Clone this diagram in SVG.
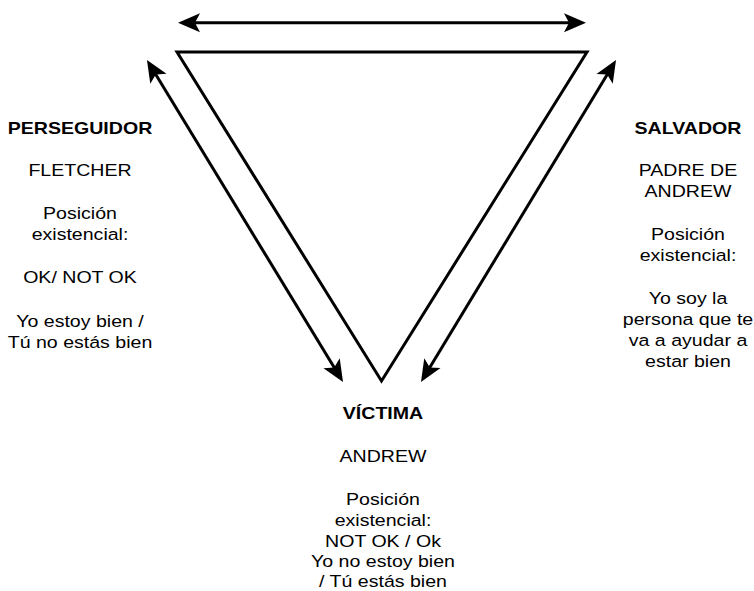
<svg xmlns="http://www.w3.org/2000/svg" width="754" height="591" viewBox="0 0 754 591">
<style>
text{font-family:"Liberation Sans",Arial,sans-serif;font-size:16.3px;fill:#000;text-anchor:middle}
.b{font-weight:bold}
.ln{stroke:#000;stroke-width:3;fill:none}
</style>
<defs>
<marker id="ah" viewBox="-12 -11 26 22" markerWidth="26" markerHeight="22" refX="0" refY="0" markerUnits="userSpaceOnUse" orient="auto-start-reverse">
<path d="M12,0 L-10,-9.5 L-5,0 L-10,9.5 Z" fill="#000"/>
</marker>
</defs>
<rect width="754" height="591" fill="#fff"/>
<g id="triangle">
<path class="ln" d="M177,52 L587,52 L381.5,381 Z" stroke-linejoin="miter"/>
</g>
<g id="connectors">
<line class="ln" x1="190" y1="22.7" x2="574" y2="22.7" marker-start="url(#ah)" marker-end="url(#ah)"/>
<line class="ln" x1="153.2" y1="70.2" x2="336.8" y2="371.8" marker-start="url(#ah)" marker-end="url(#ah)"/>
<line class="ln" x1="609.8" y1="70.3" x2="427.2" y2="371.7" marker-start="url(#ah)" marker-end="url(#ah)"/>
</g>
<g id="perseguidor" transform="translate(80,0) scale(1.2,1)">
<text class="b" x="0" y="134">PERSEGUIDOR</text>
<text x="0" y="176">FLETCHER</text>
<text x="0" y="219">Posición</text>
<text x="0" y="240">existencial:</text>
<text x="0" y="283">OK/ NOT OK</text>
<text x="0" y="327">Yo estoy bien /</text>
<text x="0" y="348">Tú no estás bien</text>
</g>
<g id="salvador" transform="translate(688,0) scale(1.2,1)">
<text class="b" x="0" y="134">SALVADOR</text>
<text x="0" y="176">PADRE DE</text>
<text x="0" y="197">ANDREW</text>
<text x="0" y="240">Posición</text>
<text x="0" y="261">existencial:</text>
<text x="0" y="304">Yo soy la</text>
<text x="0" y="325">persona que te</text>
<text x="0" y="346">va a ayudar a</text>
<text x="0" y="367">estar bien</text>
</g>
<g id="victima" transform="translate(383,0) scale(1.2,1)">
<text class="b" x="0" y="419">VÍCTIMA</text>
<text x="0" y="462">ANDREW</text>
<text x="0" y="505">Posición</text>
<text x="0" y="526">existencial:</text>
<text x="0" y="547">NOT OK / Ok</text>
<text x="0" y="567">Yo no estoy bien</text>
<text x="0" y="587">/ Tú estás bien</text>
</g>
</svg>
